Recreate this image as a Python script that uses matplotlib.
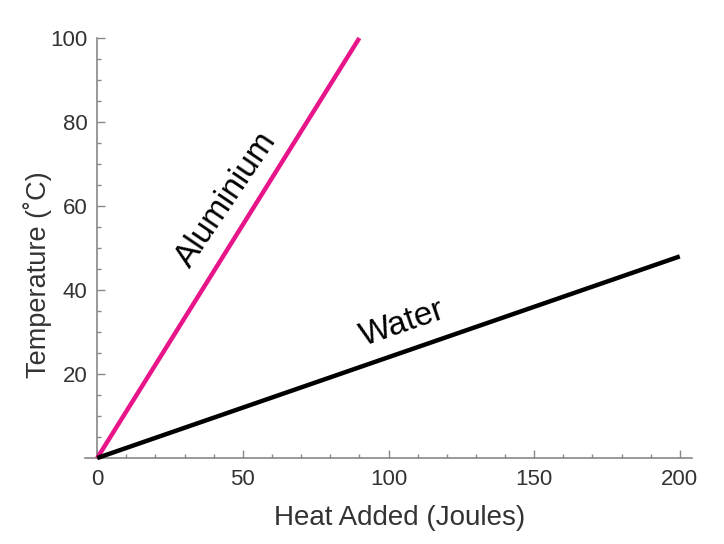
import numpy as np
import matplotlib.pyplot as plt
from matplotlib.ticker import MultipleLocator

plt.rcParams['font.family'] = ['Liberation Sans', 'DejaVu Sans']

# heat added (J) and resulting temperature (C)
heat_aluminium = [0, 90]
temp_aluminium = [0, 100]
heat_water = [0, 200]
temp_water = [0, 48]

x_ticks = [0, 50, 100, 150, 200]
y_ticks = [20, 40, 60, 80, 100]

fig = plt.figure(figsize=(7.24, 5.44), dpi=100)
ax = fig.add_axes([85 / 724, 86 / 544, 607 / 724, 420 / 544])

ax.plot(heat_aluminium, temp_aluminium, color='#e8158a', lw=3.2, clip_on=False,
        solid_capstyle='butt', zorder=3)
ax.plot(heat_water, temp_water, color='black', lw=3.2, clip_on=False,
        solid_capstyle='butt', zorder=3)

ax.set_xlim(-4.2, 204.2)
ax.set_ylim(0, 100)

for side in ['top', 'right']:
    ax.spines[side].set_visible(False)
ax.spines['left'].set_position(('data', 0))
for side in ['left', 'bottom']:
    ax.spines[side].set_color('#888888')
    ax.spines[side].set_linewidth(1.2)

ax.set_xticks(x_ticks)
ax.set_yticks(y_ticks)
ax.xaxis.set_minor_locator(MultipleLocator(10))
ax.yaxis.set_minor_locator(MultipleLocator(5))
ax.tick_params(which='both', direction='in', color='#888888', width=1,
               labelsize=16, labelcolor='#333333')
ax.tick_params(which='major', length=6)
ax.tick_params(which='minor', length=3)
ax.tick_params(axis='x', pad=8)
ax.tick_params(axis='y', pad=7)

ax.set_xlabel('Heat Added (Joules)', fontsize=20, color='#333333', labelpad=11)
ax.set_ylabel('Temperature (\u02daC)', fontsize=19.5, color='#333333', labelpad=-1)
ax.xaxis.label.set_x(0.519)
ax.yaxis.label.set_y(0.436)

ax.text(44.3, 61.4, 'Aluminium', fontsize=24, rotation=56, ha='center', va='center')
ax.text(104.8, 31.9, 'Water', fontsize=24, rotation=19, ha='center', va='center')

fig.savefig('out.png', dpi=100)
